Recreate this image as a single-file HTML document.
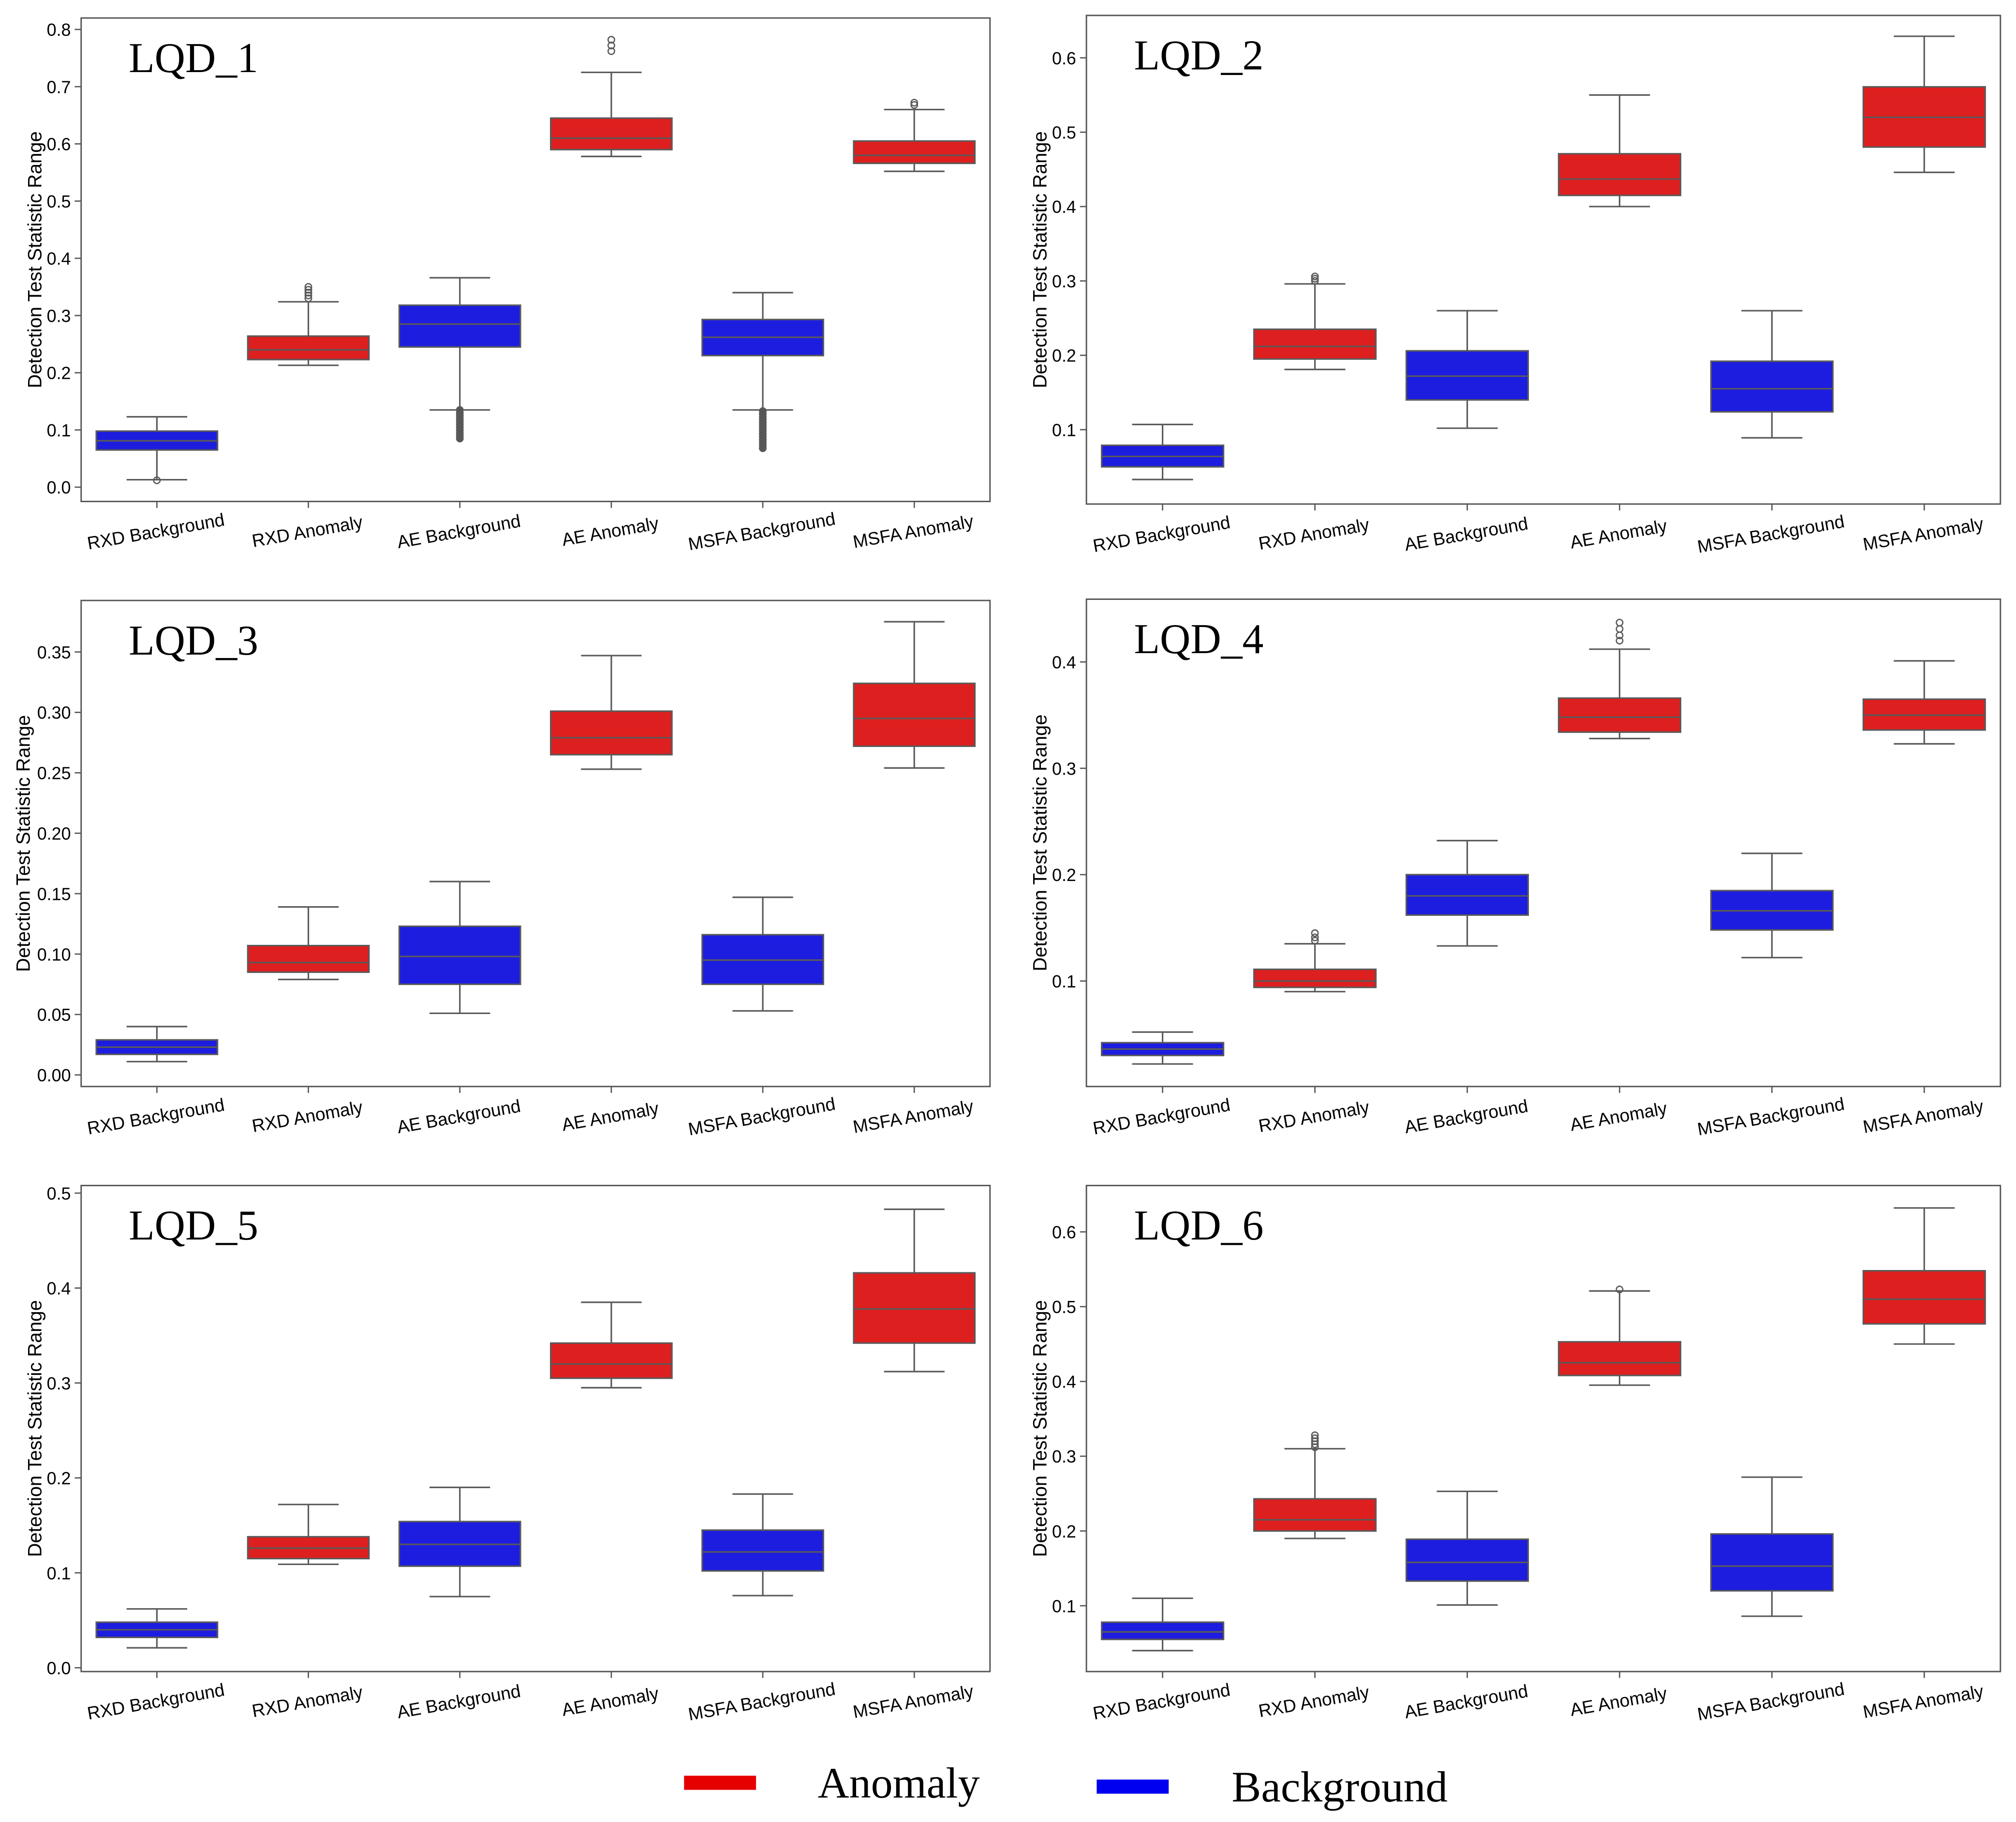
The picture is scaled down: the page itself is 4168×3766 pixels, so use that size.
<!DOCTYPE html>
<html><head><meta charset="utf-8"><style>
html,body{margin:0;padding:0;background:#fff;}
svg{display:block;}
</style></head><body>
<svg id="fig" xmlns="http://www.w3.org/2000/svg" width="4168" height="3766" viewBox="0 0 1568 1417" font-family="'Liberation Sans', 'DejaVu Sans', sans-serif">
<rect x="0" y="0" width="1568" height="1417" fill="#fff"/>
<g id="legend">
  <rect x="532" y="1381" width="56" height="11" fill="#e60000"/>
  <text x="636" y="1398" font-family="'Liberation Serif', serif" font-size="34" textLength="126" lengthAdjust="spacingAndGlyphs">Anomaly</text>
  <rect x="853" y="1384" width="56" height="11" fill="#0000f0"/>
  <text x="958" y="1401" font-family="'Liberation Serif', serif" font-size="34" textLength="168" lengthAdjust="spacingAndGlyphs">Background</text>
</g>
</svg>
<script>
const categories = ["RXD Background","RXD Anomaly","AE Background","AE Anomaly","MSFA Background","MSFA Anomaly"];
const isAnomaly = [false,true,false,true,false,true];
const panelTitles = ["LQD_1","LQD_2","LQD_3","LQD_4","LQD_5","LQD_6"];
// [whislo, q1, median, q3, whishi]
const lqd1Stats = [[0.013,0.065,0.081,0.098,0.123],[0.213,0.223,0.240,0.264,0.324],[0.135,0.245,0.285,0.318,0.366],[0.578,0.590,0.610,0.645,0.725],[0.135,0.230,0.262,0.293,0.340],[0.552,0.566,0.580,0.605,0.660]];
const lqd2Stats = [[0.033,0.050,0.064,0.079,0.107],[0.181,0.195,0.212,0.235,0.296],[0.102,0.140,0.172,0.206,0.260],[0.400,0.415,0.437,0.471,0.550],[0.089,0.124,0.155,0.192,0.260],[0.446,0.480,0.520,0.561,0.629]];
const lqd3Stats = [[0.011,0.017,0.023,0.029,0.040],[0.079,0.085,0.093,0.107,0.139],[0.051,0.075,0.098,0.123,0.160],[0.253,0.265,0.279,0.301,0.347],[0.053,0.075,0.095,0.116,0.147],[0.254,0.272,0.295,0.324,0.375]];
const lqd4Stats = [[0.022,0.030,0.036,0.042,0.052],[0.090,0.094,0.100,0.111,0.135],[0.133,0.162,0.180,0.200,0.232],[0.328,0.334,0.348,0.366,0.412],[0.122,0.148,0.166,0.185,0.220],[0.323,0.336,0.350,0.365,0.401]];
const lqd5Stats = [[0.021,0.032,0.040,0.048,0.062],[0.109,0.115,0.126,0.138,0.172],[0.075,0.107,0.130,0.154,0.190],[0.295,0.305,0.320,0.342,0.385],[0.076,0.102,0.122,0.145,0.183],[0.312,0.342,0.378,0.416,0.483]];
const lqd6Stats = [[0.040,0.055,0.065,0.078,0.110],[0.190,0.200,0.215,0.243,0.310],[0.101,0.133,0.158,0.189,0.253],[0.395,0.408,0.425,0.453,0.521],[0.086,0.120,0.153,0.196,0.272],[0.450,0.477,0.510,0.548,0.632]];
const lqd1Outliers = [[0.012],[0.330,0.335,0.340,0.345,0.350],[0.085,0.09,0.095,0.10,0.105,0.11,0.115,0.12,0.125,0.13,0.135],[0.762,0.772,0.782],[],[0.668,0.672]];
lqd1Outliers[4] = [0.068,0.073,0.078,0.083,0.088,0.093,0.098,0.103,0.108,0.113,0.118,0.123,0.128,0.133];
const lqd2Outliers = [[],[0.300,0.303,0.306],[],[],[],[]];
const lqd3Outliers = [[],[],[],[],[],[]];
const lqd4Outliers = [[],[0.138,0.141,0.145],[],[],[],[]];
lqd4Outliers[3] = [0.420,0.425,0.431,0.437];
const lqd5Outliers = [[],[],[],[],[],[]];
const lqd6Outliers = [[],[0.312,0.316,0.320,0.324,0.328],[],[0.523],[],[]];
const lqd1Ticks = [0.0,0.1,0.2,0.3,0.4,0.5,0.6,0.7,0.8];
const lqd2Ticks = [0.1,0.2,0.3,0.4,0.5,0.6];
const lqd3Ticks = [0.00,0.05,0.10,0.15,0.20,0.25,0.30,0.35];
const lqd4Ticks = [0.1,0.2,0.3,0.4];
const lqd5Ticks = [0.0,0.1,0.2,0.3,0.4,0.5];
const lqd6Ticks = [0.1,0.2,0.3,0.4,0.5,0.6];
const yDomains = [[-0.025,0.82],[0.0,0.657],[-0.0096,0.3926],[0.0008,0.459],[-0.004,0.508],[0.012,0.662]];

const allStats=[lqd1Stats,lqd2Stats,lqd3Stats,lqd4Stats,lqd5Stats,lqd6Stats];
const allOut=[lqd1Outliers,lqd2Outliers,lqd3Outliers,lqd4Outliers,lqd5Outliers,lqd6Outliers];
const allTicks=[lqd1Ticks,lqd2Ticks,lqd3Ticks,lqd4Ticks,lqd5Ticks,lqd6Ticks];
const boxes=[[63,14,770,390],[845,12,1556,392],[63,467,770,845],[845,466,1556,845],[63,922,770,1300],[845,922,1556,1300]];
const titleOffsets=[31,31,40,31,31,31];
const NS="http://www.w3.org/2000/svg";
const svg=document.getElementById('fig');
function mk(tag,attrs,parent){const e=document.createElementNS(NS,tag);for(const k in attrs)e.setAttribute(k,attrs[k]);parent.appendChild(e);return e;}
const GREY="#5a5a5a";
for(let p=0;p<6;p++){
  const [L,T,R,B]=boxes[p];
  const [d0,d1]=yDomains[p];
  const y=v=>B-(v-d0)/(d1-d0)*(B-T);
  const band=(R-L)/6;
  const x=i=>L+band*(i+0.5);
  const g=mk('g',{},svg);
  
  
  const fr=mk('rect',{x:L,y:T,width:R-L,height:B-T,fill:'none',stroke:'#555','stroke-width':1.1},g);
  
  
  const tl=mk('text',{x:L+37,y:T+42,'font-family':"'Liberation Serif', serif",'font-size':33},g);
  tl.textContent=panelTitles[p];
  
  
  const yl=mk('text',{x:0,y:0,'font-size':15,'text-anchor':'middle',transform:`translate(${L-titleOffsets[p]},${(T+B)/2}) rotate(-90)`},g);
  yl.textContent='Detection Test Statistic Range';
  
  
  allTicks[p].forEach(t=>{
    const yy=y(t);
    const tk=mk('line',{x1:L-5,x2:L,y1:yy,y2:yy,stroke:'#555','stroke-width':1},g);
    
    
    const tt=mk('text',{x:L-8,y:yy+5,'font-size':13.5,'text-anchor':'end'},g);
    tt.textContent=p==2?t.toFixed(2):t.toFixed(1);
    
    
  });
  categories.forEach((c,i)=>{
    const cx=x(i);
    const xt=mk('line',{x1:cx,x2:cx,y1:B,y2:B+5,stroke:'#555','stroke-width':1},g);
    
    
    const lab=mk('text',{x:0,y:0,'font-size':14,'text-anchor':'middle',transform:`translate(${cx},${B+28}) rotate(-10)`},g);
    lab.textContent=c;
    
    
    const s=allStats[p][i];
    const bw=band*0.8, cap=band*0.4;
    const bg=mk('g',{},g);
    
    
    mk('line',{x1:cx,x2:cx,y1:y(s[0]),y2:y(s[1]),stroke:GREY,'stroke-width':1.2},bg);
    mk('line',{x1:cx,x2:cx,y1:y(s[3]),y2:y(s[4]),stroke:GREY,'stroke-width':1.2},bg);
    mk('line',{x1:cx-cap/2,x2:cx+cap/2,y1:y(s[0]),y2:y(s[0]),stroke:GREY,'stroke-width':1.2},bg);
    mk('line',{x1:cx-cap/2,x2:cx+cap/2,y1:y(s[4]),y2:y(s[4]),stroke:GREY,'stroke-width':1.2},bg);
    mk('rect',{x:cx-bw/2,y:y(s[3]),width:bw,height:y(s[1])-y(s[3]),fill:isAnomaly[i]?'#de1f1f':'#1d1ddf',stroke:GREY,'stroke-width':1.2},bg);
    mk('line',{x1:cx-bw/2,x2:cx+bw/2,y1:y(s[2]),y2:y(s[2]),stroke:GREY,'stroke-width':1.2},bg);
    const dense=allOut[p][i].length>8;
    allOut[p][i].forEach(o=>{
      const c2=mk('circle',{cx:cx,cy:y(o),r:2.5,fill:dense?'#555':'none',stroke:GREY,'stroke-width':1},bg);
      
      
    });
  });
}
</script>
</body></html>
